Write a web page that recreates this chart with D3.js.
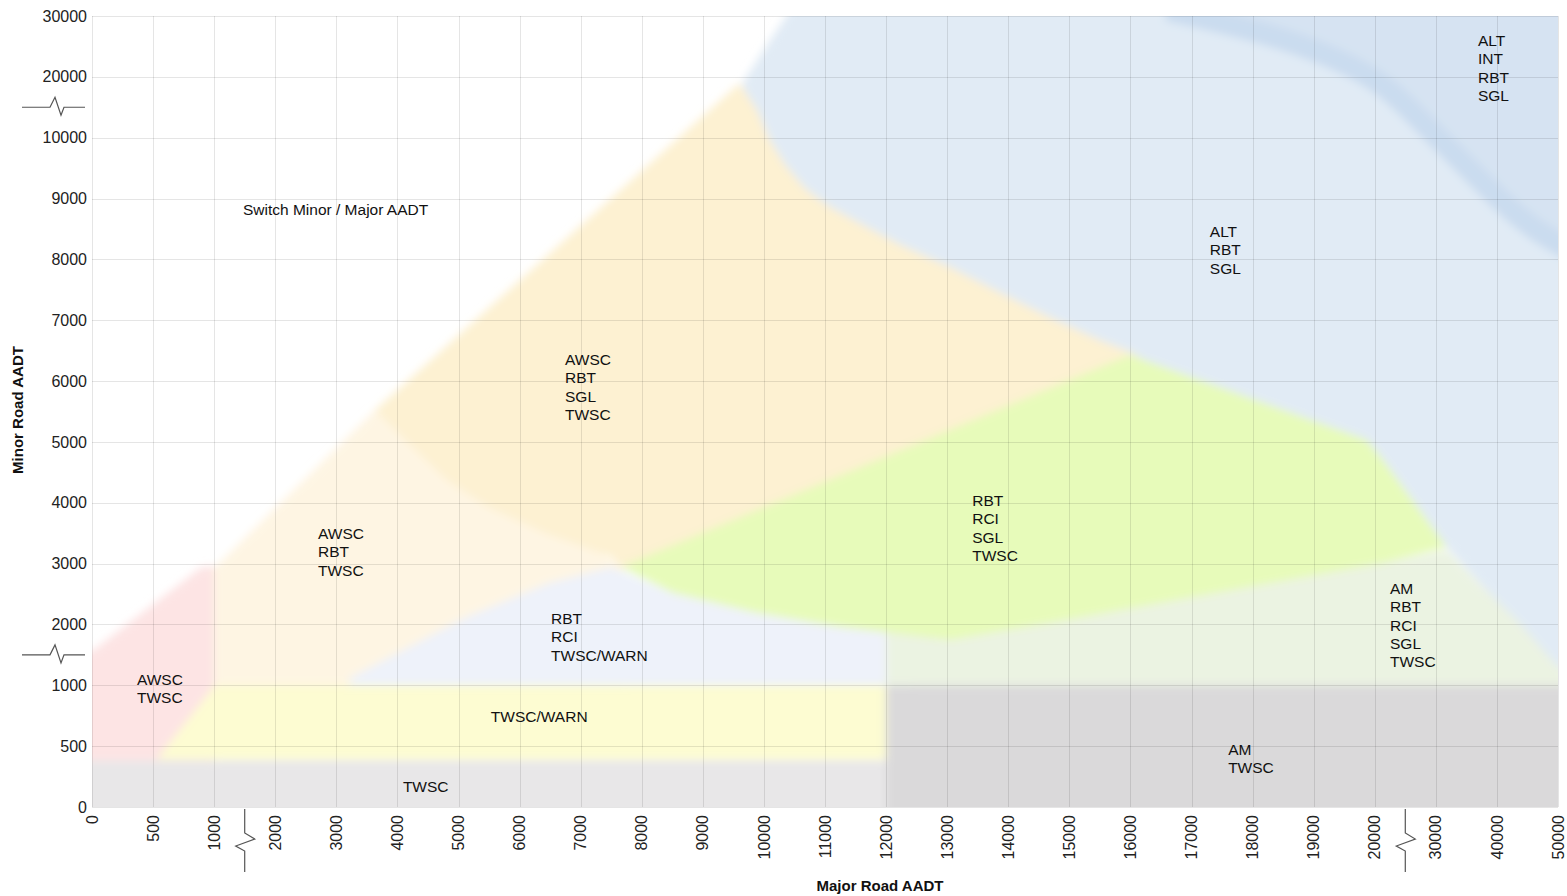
<!DOCTYPE html>
<html>
<head>
<meta charset="utf-8">
<script src="https://cdn.jsdelivr.net/npm/d3@7"></script>
<style>
  body { margin: 0; background: #fff; }
  text { font-family: "Liberation Sans", Arial, sans-serif; fill: #111; }
</style>
</head>
<body>
<svg id="chart"></svg>
<script>
// Axis tick values (axes are broken, so every tick gets the same spacing)
var majorTicks = [0, 500, 1000, 2000, 3000, 4000, 5000, 6000, 7000, 8000, 9000, 10000,
  11000, 12000, 13000, 14000, 15000, 16000, 17000, 18000, 19000, 20000, 30000, 40000, 50000];
var minorTicks = [0, 500, 1000, 2000, 3000, 4000, 5000, 6000, 7000, 8000, 9000, 10000, 20000, 30000];
var majorBreaks = [1500, 25000];
var minorBreaks = [1500, 15000];

// Region outlines, [major AADT, minor AADT]
var twsc = [[-500, -300], [12000, -300], [12000, 380], [-500, 380]];
var amTwsc = [[12000, -300], [60000, -300], [60000, 1000], [12000, 1000]];
var awscTwsc = [[-500, 380], [-500, 1500], [0, 1560], [900, 2950], [1000, 2950], [1000, 380]];
var awscRbtTwsc = [[1000, 1000], [1000, 2930], [3630, 5520], [7700, 2940], [7700, 1000]];
var twscWarn = [[530, 390], [1010, 1000], [12000, 1000], [12000, 390]];
var rbtRciWarn = [[3220, 1000], [3220, 1120], [5120, 2120], [6480, 2680], [7500, 2944], [8510, 2517],
  [9870, 2188], [11230, 1958], [12400, 1850], [12400, 1000]];
var altRbtSgl = [[10700, 35000], [60000, 35000], [60000, 1150], [50000, 1300], [31800, 3270],
  [21400, 4700], [19870, 5031], [15990, 6428], [11500, 7000], [9600, 9000], [9700, 17000],
  [9650, 19000], [10100, 26000]];
var altIntRbtSgl = [[16600, 35000], [60000, 35000], [60000, 8240], [50000, 8240], [43300, 8700],
  [37700, 9250], [32300, 9800], [26900, 13400], [21400, 19000], [19320, 23300], [18240, 27200], [16600, 30000]];
var altIntEdge = [[16600, 31000], [18240, 27200], [19320, 23300], [21400, 19000], [26900, 13400],
  [32300, 9800], [37700, 9250], [43300, 8700], [48700, 8320], [55000, 8000]];
var awscRbtSglTwsc = [[3633, 5524], [9600, 19000], [9890, 14500], [10100, 9960], [10350, 9550],
  [10670, 9170], [11080, 8860], [11690, 8530], [12230, 8240], [13050, 7870], [13870, 7450],
  [14680, 7050], [15500, 6670], [15990, 6480], [16300, 6300], [7660, 2944], [7510, 3110],
  [6420, 3500], [5480, 3930], [4810, 4370], [4240, 4920]];
var amRbtRciSglTwsc = [[12000, 1000], [12000, 1900], [13060, 1744], [14680, 2024], [17960, 2615],
  [21400, 3010], [31800, 3220], [37700, 2615], [43300, 2070], [50000, 1300], [60000, 1100], [60000, 1000]];
var rbtRciSglTwsc = [[7660, 2944], [15990, 6428], [19870, 5031], [21400, 4700], [31800, 3270],
  [21400, 3010], [17960, 2615], [14680, 2024], [13060, 1744], [11230, 1958], [9870, 2188], [8510, 2517]];

// Region labels, anchored at [major, minor] of the first line
var labels = [
  { lines: ["Switch Minor / Major AADT"], at: [1472, 8827] },
  { lines: ["AWSC", "RBT", "SGL", "TWSC"], at: [6744, 6362] },
  { lines: ["AWSC", "RBT", "TWSC"], at: [2700, 3503] },
  { lines: ["AWSC", "TWSC"], at: [368, 1104] },
  { lines: ["RBT", "RCI", "TWSC/WARN"], at: [6515, 2106] },
  { lines: ["TWSC/WARN"], at: [5530, 748] },
  { lines: ["TWSC"], at: [4090, 173] },
  { lines: ["RBT", "RCI", "SGL", "TWSC"], at: [13410, 4045] },
  { lines: ["ALT", "RBT", "SGL"], at: [17300, 8466] },
  { lines: ["ALT", "INT", "RBT", "SGL"], at: [36900, 26050] },
  { lines: ["AM", "RBT", "RCI", "SGL", "TWSC"], at: [22500, 2599] },
  { lines: ["AM", "TWSC"], at: [17600, 477] }
];

var width = 1567, height = 896;
var plotL = 92, plotR = 1558, plotT = 16, plotB = 807;

var svg = d3.select("#chart").attr("width", width).attr("height", height);

// Piecewise scales: equal spacing between ticks
var x = d3.scaleLinear()
  .domain(majorTicks)
  .range(majorTicks.map(function (d, i) { return plotL + i * (plotR - plotL) / (majorTicks.length - 1); }));
var y = d3.scaleLinear()
  .domain(minorTicks)
  .range(minorTicks.map(function (d, i) { return plotB - i * (plotB - plotT) / (minorTicks.length - 1); }));

var defs = svg.append("defs");
defs.append("clipPath").attr("id", "plot")
  .append("rect").attr("x", plotL).attr("y", plotT).attr("width", plotR - plotL).attr("height", plotB - plotT);
var soft = defs.append("filter").attr("id", "soft")
  .attr("x", "-5%").attr("y", "-5%").attr("width", "110%").attr("height", "110%");
soft.append("feGaussianBlur").attr("stdDeviation", 4.5);

var regions = [
  { pts: twsc, fill: "#e8e7e8" },
  { pts: amTwsc, fill: "#dad9da" },
  { pts: awscTwsc, fill: "#fde4e4" },
  { pts: awscRbtTwsc, fill: "#fef5e3" },
  { pts: twscWarn, fill: "#fdfcd2" },
  { pts: rbtRciWarn, fill: "#eef2fa" },
  { pts: altRbtSgl, fill: "#e1ebf5" },
  { pts: altIntRbtSgl, fill: "#d6e3f2" },
  { pts: awscRbtSglTwsc, fill: "#fdf1d2" },
  { pts: amRbtRciSglTwsc, fill: "#ebf3e2" },
  { pts: rbtRciSglTwsc, fill: "#e7fbba" }
];

var line = d3.line().x(function (d) { return x(d[0]); }).y(function (d) { return y(d[1]); });

var area = svg.append("g").attr("clip-path", "url(#plot)")
  .append("g").attr("filter", "url(#soft)");

area.selectAll("path.region")
  .data(regions.slice(0, 8))
  .enter().append("path")
  .attr("class", "region")
  .attr("d", function (d) { return line(d.pts) + "Z"; })
  .attr("fill", function (d) { return d.fill; });

// darker band along the ALT/INT boundary
area.append("path")
  .attr("d", line.curve(d3.curveBasis)(altIntEdge))
  .attr("fill", "none")
  .attr("stroke", "#cadcef")
  .attr("stroke-width", 22);
line.curve(d3.curveLinear);

area.selectAll("path.region2")
  .data(regions.slice(8))
  .enter().append("path")
  .attr("class", "region2")
  .attr("d", function (d) { return line(d.pts) + "Z"; })
  .attr("fill", function (d) { return d.fill; });

// Grid
var grid = svg.append("g").attr("stroke", "#000").attr("stroke-opacity", 0.1).attr("stroke-width", 1);
grid.selectAll("line.v").data(majorTicks).enter().append("line")
  .attr("x1", function (d) { return Math.round(x(d)) + 0.5; })
  .attr("x2", function (d) { return Math.round(x(d)) + 0.5; })
  .attr("y1", plotT).attr("y2", plotB);
grid.selectAll("line.h").data(minorTicks).enter().append("line")
  .attr("x1", plotL).attr("x2", plotR)
  .attr("y1", function (d) { return Math.round(y(d)) + 0.5; })
  .attr("y2", function (d) { return Math.round(y(d)) + 0.5; });

// Tick labels
svg.append("g").selectAll("text").data(minorTicks).enter().append("text")
  .attr("x", 87).attr("y", function (d) { return y(d); })
  .attr("dy", "0.35em").attr("text-anchor", "end")
  .style("font-size", "16px").style("fill", "#222")
  .text(function (d) { return d; });

svg.append("g").selectAll("text").data(majorTicks).enter().append("text")
  .attr("transform", function (d) { return "translate(" + x(d) + ",815) rotate(-90)"; })
  .attr("dy", "0.35em").attr("text-anchor", "end")
  .style("font-size", "16px").style("fill", "#222")
  .text(function (d) { return d; });

// Axis break marks
var breaks = svg.append("g").attr("fill", "none").attr("stroke", "#555").attr("stroke-width", 1.2);
minorBreaks.forEach(function (b) {
  var by = y(b);
  breaks.append("path").attr("d",
    "M22," + by + "H50L55," + (by - 10) + "L61," + (by + 8) + "L64," + by + "H85");
});
majorBreaks.forEach(function (b) {
  var bx = x(b);
  breaks.append("path").attr("d",
    "M" + bx + ",809V833L" + (bx + 10) + ",839L" + (bx - 9) + ",846L" + bx + ",851V872");
});

// Axis titles
svg.append("text")
  .attr("x", 880).attr("y", 891).attr("text-anchor", "middle")
  .style("font-size", "15px").style("font-weight", "bold")
  .text("Major Road AADT");
svg.append("text")
  .attr("transform", "translate(23,410) rotate(-90)")
  .attr("text-anchor", "middle")
  .style("font-size", "15px").style("font-weight", "bold")
  .text("Minor Road AADT");

// Region labels
var lab = svg.append("g").selectAll("text").data(labels).enter().append("text")
  .attr("x", function (d) { return x(d.at[0]); })
  .attr("y", function (d) { return y(d.at[1]); })
  .style("font-size", "15.5px");
lab.selectAll("tspan").data(function (d) {
    return d.lines.map(function (t) { return { t: t, x: x(d.at[0]) }; });
  })
  .enter().append("tspan")
  .attr("x", function (d) { return d.x; })
  .attr("dy", function (d, i) { return i === 0 ? "0.37em" : 18.4; })
  .text(function (d) { return d.t; });
</script>
</body>
</html>
